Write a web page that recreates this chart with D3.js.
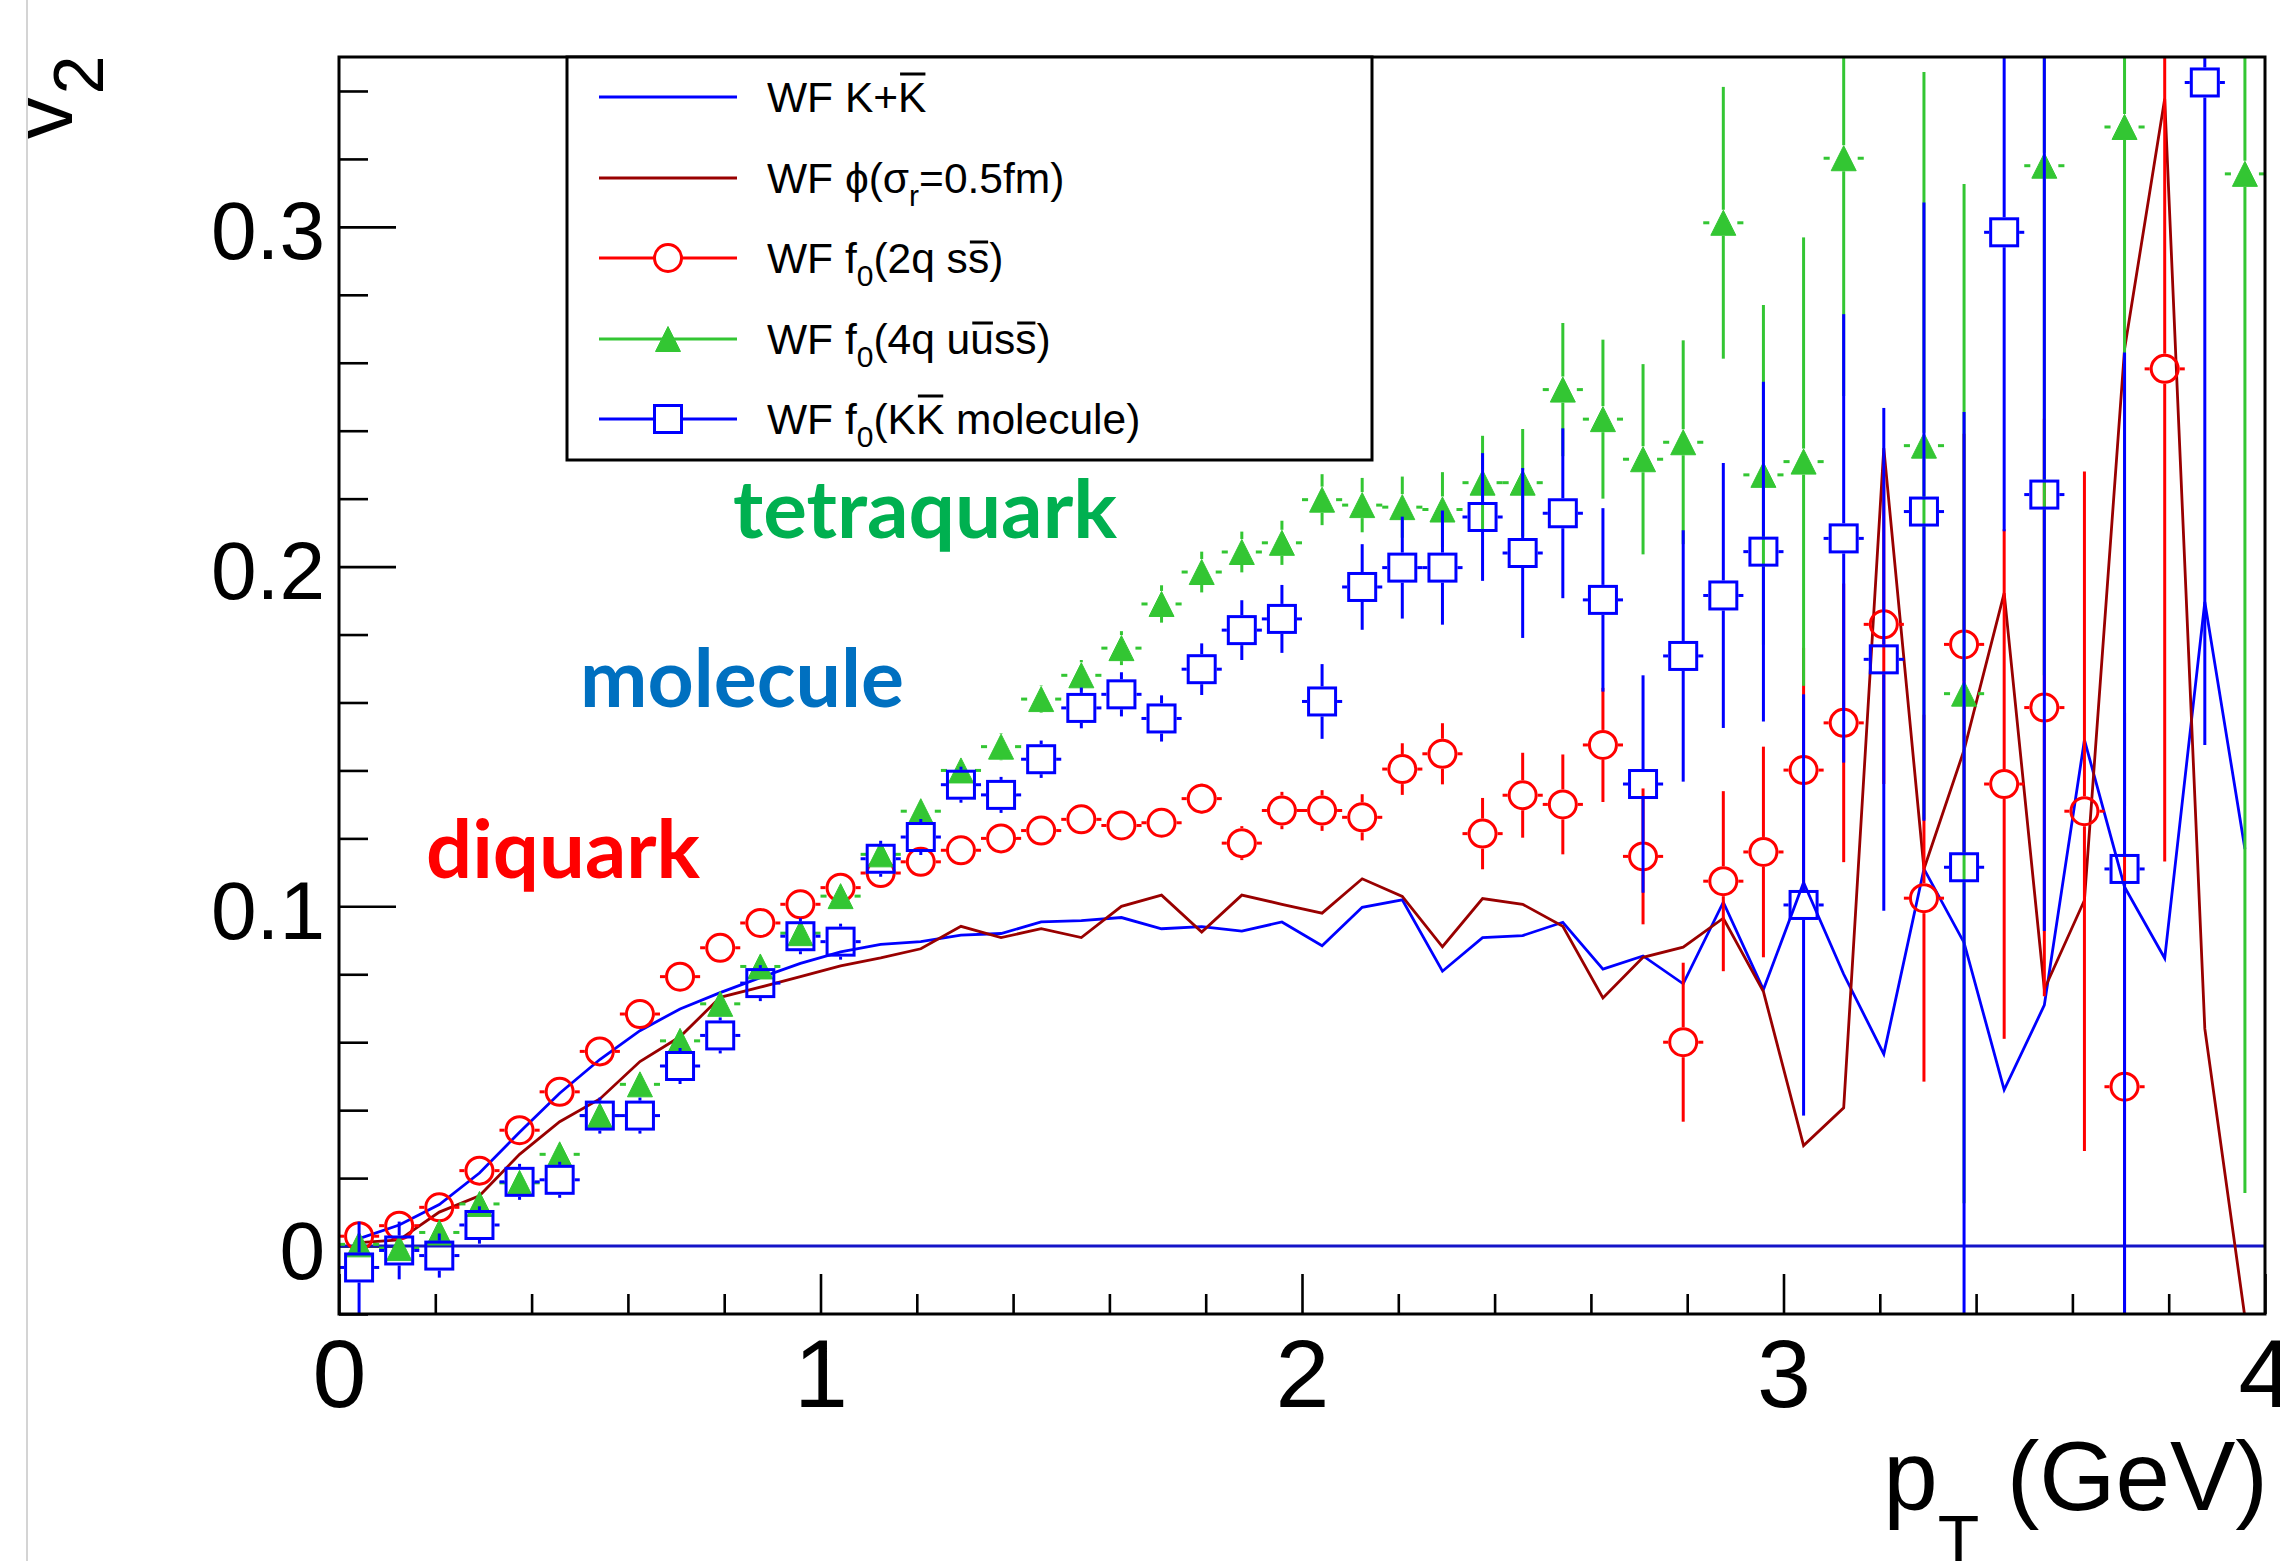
<!DOCTYPE html>
<html>
<head>
<meta charset="utf-8">
<script src="https://cdn.jsdelivr.net/npm/d3@7"></script>
<style>
  html, body { margin: 0; padding: 0; background: #ffffff; }
  svg { display: block; }
</style>
</head>
<body>
<svg id="chart" width="2280" height="1561"></svg>
<script>
// ---- data -------------------------------------------------------------
// pT bin centres in GeV (48 bins, width 1/12 GeV)
const pT = [0.0417, 0.1250, 0.2083, 0.2917, 0.3750, 0.4583, 0.5417, 0.6250,
            0.7083, 0.7917, 0.8750, 0.9583, 1.0417, 1.1250, 1.2083, 1.2917,
            1.3750, 1.4583, 1.5417, 1.6250, 1.7083, 1.7917, 1.8750, 1.9583,
            2.0417, 2.1250, 2.2083, 2.2917, 2.3750, 2.4583, 2.5417, 2.6250,
            2.7083, 2.7917, 2.8750, 2.9583, 3.0417, 3.1250, 3.2083, 3.2917,
            3.3750, 3.4583, 3.5417, 3.6250, 3.7083, 3.7917, 3.8750, 3.9583];
const binHalfWidth = 0.0417;

// WF K+Kbar (line)
const kkLine = [0.0022, 0.0062, 0.0122, 0.0215, 0.0335, 0.0450, 0.0549, 0.0634,
                0.0698, 0.0746, 0.0790, 0.0832, 0.0866, 0.0888, 0.0896, 0.0915,
                0.0920, 0.0954, 0.0958, 0.0967, 0.0934, 0.0940, 0.0927, 0.0954,
                0.0884, 0.0997, 0.1019, 0.0809, 0.0908, 0.0914, 0.0953, 0.0815,
                0.0854, 0.0772, 0.1012, 0.0755, 0.1070, 0.0800, 0.0565, 0.1110,
                0.0893, 0.0460, 0.0709, 0.1490, 0.1057, 0.0847, 0.1896, 0.1169];

// WF phi (sigma_r = 0.5 fm) (line)
const phiLine = [0.0010, 0.0018, 0.0100, 0.0148, 0.0270, 0.0366, 0.0433, 0.0543,
                 0.0616, 0.0732, 0.0762, 0.0793, 0.0825, 0.0848, 0.0875, 0.0941,
                 0.0908, 0.0934, 0.0908, 0.1000, 0.1033, 0.0924, 0.1033, 0.1006,
                 0.0980, 0.1081, 0.1029, 0.0881, 0.1023, 0.1006, 0.0941, 0.0730,
                 0.0850, 0.0880, 0.0965, 0.0749, 0.0296, 0.0407, 0.2349, 0.1110,
                 0.1460, 0.1922, 0.0756, 0.1018, 0.2640, 0.3377, 0.0640, -0.0210];

// WF f0 (2q s sbar) : open circles
const f0TwoQ = [0.0029, 0.0060, 0.0114, 0.0222, 0.0341, 0.0454, 0.0573, 0.0683,
                0.0793, 0.0878, 0.0951, 0.1006, 0.1055, 0.1098, 0.1131, 0.1165,
                0.1200, 0.1223, 0.1256, 0.1238, 0.1246, 0.1317, 0.1186, 0.1282,
                0.1282, 0.1262, 0.1404, 0.1449, 0.1214, 0.1327, 0.1300, 0.1475,
                0.1147, 0.0600, 0.1074, 0.1160, 0.1401, 0.1540, 0.1830, 0.1024,
                0.1771, 0.1360, 0.1585, 0.1280, 0.0469, 0.2582, null, null];
const f0TwoQErr = [0.001, 0.001, 0.001, 0.001, 0.001, 0.001, 0.001, 0.001,
                   0.001, 0.001, 0.001, 0.002, 0.002, 0.002, 0.002, 0.002,
                   0.002, 0.003, 0.003, 0.0035, 0.004, 0.0045, 0.005, 0.0055,
                   0.006, 0.0068, 0.0076, 0.009, 0.0105, 0.0125, 0.0147, 0.0168,
                   0.020, 0.0234, 0.0265, 0.031, 0.036, 0.041, 0.047, 0.054,
                   0.062, 0.075, 0.085, 0.100, 0.110, 0.145, 0, 0];

// WF f0 (4q u ubar s sbar) : full triangles
const f0FourQ = [0.0005, -0.0006, 0.0040, 0.0124, 0.0186, 0.0270, 0.0384, 0.0476,
                 0.0604, 0.0713, 0.0823, 0.0921, 0.1030, 0.1153, 0.1280, 0.1400,
                 0.1470, 0.1610, 0.1680, 0.1760, 0.1890, 0.1984, 0.2043, 0.2070,
                 0.2197, 0.2181, 0.2175, 0.2168, 0.2247, 0.2247, 0.2521, 0.2434,
                 0.2316, 0.2366, 0.3012, 0.2270, 0.2309, 0.3202, null, 0.2356,
                 0.1626, null, 0.3180, null, 0.3294, null, null, 0.3156];
const f0FourQErr = [0.001, 0.001, 0.001, 0.001, 0.001, 0.001, 0.002, 0.002,
                    0.002, 0.002, 0.002, 0.003, 0.003, 0.003, 0.003, 0.003,
                    0.004, 0.004, 0.0045, 0.005, 0.0055, 0.006, 0.006, 0.0065,
                    0.0075, 0.008, 0.009, 0.011, 0.0138, 0.0158, 0.0196, 0.0234,
                    0.028, 0.030, 0.040, 0.050, 0.066, 0.070, 0, 0.110,
                    0.150, 0, 0.150, 0, 0.200, 0, 0, 0.300];

// WF f0 (K Kbar molecule) : open squares
const f0Mol = [-0.0063, -0.0013, -0.0028, 0.0062, 0.0189, 0.0195, 0.0384, 0.0384,
               0.0530, 0.0620, 0.0774, 0.0912, 0.0896, 0.1140, 0.1204, 0.1358,
               0.1328, 0.1433, 0.1584, 0.1624, 0.1553, 0.1698, 0.1813, 0.1846,
               0.1603, 0.1940, 0.1997, 0.1997, 0.2146, 0.2040, 0.2157, 0.1902,
               0.1360, 0.1737, 0.1915, 0.2044, 0.1004, 0.2083, 0.1727, 0.2162,
               0.1115, 0.2984, 0.2212, null, 0.1110, null, 0.3425, null];
const f0MolErr = [0.0135, 0.0085, 0.0065, 0.0055, 0.0053, 0.0053, 0.0053, 0.0053,
                  0.0053, 0.0053, 0.0053, 0.0053, 0.0053, 0.0053, 0.0053, 0.0053,
                  0.0053, 0.0055, 0.006, 0.0065, 0.0068, 0.0076, 0.0088, 0.010,
                  0.011, 0.0126, 0.015, 0.0168, 0.0188, 0.025, 0.025, 0.027,
                  0.032, 0.037, 0.039, 0.050, 0.062, 0.066, 0.074, 0.091,
                  0.134, 0.088, 0.1285, 0, 0.152, 0, 0.195, 0];

const yMajorTicks = [0, 0.1, 0.2, 0.3];
const xMajorTicks = [0, 1, 2, 3, 4];

// legend rows: text pieces, "sub" = subscript, "bar" = overlined
const legendRows = [
  { parts: [["WF K+"], ["K", "bar"]], type: "line", key: "kk" },
  { parts: [["WF \u03D5(\u03C3"], ["r", "sub"], ["=0.5fm)"]], type: "line", key: "phi" },
  { parts: [["WF f"], ["0", "sub"], ["(2q s"], ["s", "bar"], [")"]], type: "circle", key: "twoQ" },
  { parts: [["WF f"], ["0", "sub"], ["(4q u"], ["u", "bar"], ["s"], ["s", "bar"], [")"]], type: "triangle", key: "fourQ" },
  { parts: [["WF f"], ["0", "sub"], ["(K"], ["K", "bar"], [" molecule)"]], type: "square", key: "mol" }
];

const annotations = [
  { text: "tetraquark", color: "#00b050", x: 733, y: 538, len: 384 },
  { text: "molecule",   color: "#0070c0", x: 580, y: 707, len: 324 },
  { text: "diquark",    color: "#ff0000", x: 426, y: 878, len: 274 }
];

// ---- layout & style ----------------------------------------------------
const frame = { left: 339, right: 2265, top: 57, bottom: 1314 };
const colors = {
  kk: "#0000ff", phi: "#990000", twoQ: "#ff0000",
  fourQ: "#33c633", mol: "#0000ff", zero: "#1414c8"
};
const FONT = "'Liberation Sans', Arial, Helvetica, sans-serif";
const MARK = 13.5;

const svg = d3.select("#chart");
svg.append("rect").attr("width", 2280).attr("height", 1561).attr("fill", "#ffffff");
// thin page border on the left
svg.append("line").attr("x1", 27).attr("x2", 27).attr("y1", 0).attr("y2", 1561)
  .attr("stroke", "#d4d4d4").attr("stroke-width", 2);

const x = d3.scaleLinear().domain([0, 4]).range([frame.left, frame.right]);
const y = d3.scaleLinear().domain([-0.02, 0.35]).range([frame.bottom, frame.top]);

svg.append("defs").append("clipPath").attr("id", "frameClip")
  .append("rect")
  .attr("x", frame.left).attr("y", frame.top)
  .attr("width", frame.right - frame.left).attr("height", frame.bottom - frame.top);

// ---- axes ---------------------------------------------------------------
function styleAxis(g, fontSize) {
  g.select(".domain").remove();
  g.selectAll(".tick line").attr("stroke", "#000").attr("stroke-width", 2.6);
  g.selectAll(".tick text").attr("fill", "#000")
    .attr("font-family", FONT).attr("font-size", fontSize);
}

const yMinor = d3.range(-0.02, 0.3501, 0.02)
  .filter(v => !yMajorTicks.some(t => Math.abs(t - v) < 1e-6));
svg.append("g").attr("transform", `translate(${frame.left},0)`)
  .call(d3.axisLeft(y).tickValues(yMinor).tickSize(-29).tickSizeOuter(0).tickFormat(""))
  .call(g => styleAxis(g, 82));
svg.append("g").attr("transform", `translate(${frame.left},0)`)
  .call(d3.axisLeft(y).tickValues(yMajorTicks).tickSize(-57).tickSizeOuter(0)
    .tickPadding(14).tickFormat(d => d === 0 ? "0" : d3.format(".1f")(d)))
  .call(g => styleAxis(g, 82))
  .call(g => g.selectAll(".tick text").attr("dy", "0.39em"));

const xMinor = d3.range(0.2, 4, 0.2)
  .filter(v => !xMajorTicks.some(t => Math.abs(t - v) < 1e-6));
svg.append("g").attr("transform", `translate(0,${frame.bottom})`)
  .call(d3.axisBottom(x).tickValues(xMinor).tickSize(-20).tickSizeOuter(0).tickFormat(""))
  .call(g => styleAxis(g, 97));
svg.append("g").attr("transform", `translate(0,${frame.bottom})`)
  .call(d3.axisBottom(x).tickValues(xMajorTicks).tickSize(-40).tickSizeOuter(0)
    .tickPadding(24).tickFormat(d3.format("d")))
  .call(g => styleAxis(g, 97));

// axis titles
const xTitle = svg.append("text").attr("x", 2268).attr("y", 1510)
  .attr("text-anchor", "end").attr("font-family", FONT).attr("font-size", 98).attr("fill", "#000");
xTitle.append("tspan").text("p");
xTitle.append("tspan").attr("font-size", 68).attr("dy", 53).text("T");
xTitle.append("tspan").attr("dy", -53).text(" (GeV)");

const yTitle = svg.append("text").attr("transform", "translate(72,139) rotate(-90)")
  .attr("font-family", FONT).attr("font-size", 83).attr("fill", "#000");
yTitle.append("tspan").text("v");
yTitle.append("tspan").attr("font-size", 70).attr("dy", 31).attr("dx", 3).text("2");

// ---- plot contents ---------------------------------------------------------
const plot = svg.append("g").attr("clip-path", "url(#frameClip)");

// reference line at v2 = 0
plot.append("line")
  .attr("x1", x(0)).attr("x2", x(4)).attr("y1", y(0)).attr("y2", y(0))
  .attr("stroke", colors.zero).attr("stroke-width", 3);

function drawLine(vals, color) {
  const line = d3.line()
    .defined((d, i) => vals[i] != null)
    .x((d, i) => x(pT[i]))
    .y((d, i) => y(vals[i]));
  plot.append("path").datum(vals).attr("d", line)
    .attr("fill", "none").attr("stroke", color).attr("stroke-width", 2.8)
    .attr("stroke-linejoin", "miter");
}
drawLine(kkLine, colors.kk);
drawLine(phiLine, colors.phi);

function drawMarker(g, shape, cx, cy, color) {
  if (shape === "circle") {
    g.append("circle").attr("cx", cx).attr("cy", cy).attr("r", MARK)
      .attr("fill", "none").attr("stroke", color).attr("stroke-width", 3);
  } else if (shape === "square") {
    g.append("rect").attr("x", cx - MARK).attr("y", cy - MARK)
      .attr("width", 2 * MARK).attr("height", 2 * MARK)
      .attr("fill", "none").attr("stroke", color).attr("stroke-width", 3);
  } else {
    g.append("path")
      .attr("d", `M${cx},${cy - 12.5}L${cx + 12.5},${cy + 12.5}L${cx - 12.5},${cy + 12.5}Z`)
      .attr("fill", color).attr("stroke", color).attr("stroke-width", 1);
  }
}

function drawPoints(vals, errs, color, shape) {
  const g = plot.append("g");
  const hx = shape === "triangle" ? 14 : 15;
  const hy = shape === "triangle" ? 13 : 15;
  const seg = (x1, y1, x2, y2) => g.append("line")
    .attr("x1", x1).attr("y1", y1).attr("x2", x2).attr("y2", y2)
    .attr("stroke", color).attr("stroke-width", 3);
  vals.forEach((v, i) => {
    if (v == null) return;
    const cx = x(pT[i]), cy = y(v), e = errs[i];
    const yTop = y(v + e), yBot = y(v - e);
    if (cy - hy > yTop) seg(cx, yTop, cx, cy - hy);
    if (cy + hy < yBot) seg(cx, cy + hy, cx, yBot);
    const xl = x(pT[i] - binHalfWidth), xr = x(pT[i] + binHalfWidth);
    if (cx - hx > xl) seg(xl, cy, cx - hx, cy);
    if (cx + hx < xr) seg(cx + hx, cy, xr, cy);
    drawMarker(g, shape, cx, cy, color);
  });
}
drawPoints(f0TwoQ, f0TwoQErr, colors.twoQ, "circle");
drawPoints(f0FourQ, f0FourQErr, colors.fourQ, "triangle");
drawPoints(f0Mol, f0MolErr, colors.mol, "square");

// frame
svg.append("rect")
  .attr("x", frame.left).attr("y", frame.top)
  .attr("width", frame.right - frame.left).attr("height", frame.bottom - frame.top)
  .attr("fill", "none").attr("stroke", "#000").attr("stroke-width", 3);

// ---- annotations -------------------------------------------------------------
annotations.forEach(a => {
  svg.append("text").attr("x", a.x).attr("y", a.y)
    .attr("font-family", "Lato, 'Open Sans', sans-serif").attr("font-weight", 700)
    .attr("font-size", 80).attr("fill", a.color)
    .attr("textLength", a.len).attr("lengthAdjust", "spacingAndGlyphs")
    .text(a.text);
});

// ---- legend --------------------------------------------------------------------
const legend = { left: 567, right: 1372, top: 57, bottom: 460,
                 rowY: [97, 178, 258, 339, 419], lineX1: 599, lineX2: 737, markX: 668, textX: 767 };
const lg = svg.append("g");
lg.append("rect")
  .attr("x", legend.left).attr("y", legend.top)
  .attr("width", legend.right - legend.left).attr("height", legend.bottom - legend.top)
  .attr("fill", "#ffffff").attr("stroke", "#000").attr("stroke-width", 3);

legendRows.forEach((row, r) => {
  const ry = legend.rowY[r];
  const color = colors[row.key];
  if (row.type === "line") {
    lg.append("line").attr("x1", legend.lineX1).attr("x2", legend.lineX2)
      .attr("y1", ry).attr("y2", ry).attr("stroke", color).attr("stroke-width", 3);
  } else {
    const gap = row.type === "triangle" ? 0 : MARK;
    lg.append("line").attr("x1", legend.lineX1).attr("x2", legend.markX - gap)
      .attr("y1", ry).attr("y2", ry).attr("stroke", color).attr("stroke-width", 3);
    lg.append("line").attr("x1", legend.markX + gap).attr("x2", legend.lineX2)
      .attr("y1", ry).attr("y2", ry).attr("stroke", color).attr("stroke-width", 3);
    drawMarker(lg, row.type, legend.markX, ry, color);
  }

  const baseY = ry + 15;
  const t = lg.append("text").attr("x", legend.textX).attr("y", baseY)
    .attr("font-family", FONT).attr("font-size", 42.5).attr("fill", "#000");
  let shift = 0, idx = 0;
  const bars = [];
  row.parts.forEach(([s, kind]) => {
    const ts = t.append("tspan").text(s);
    if (kind === "sub") {
      ts.attr("font-size", 30).attr("dy", 13 - shift);
      shift = 13;
    } else if (shift) {
      ts.attr("dy", -shift);
      shift = 0;
    }
    if (kind === "bar") bars.push({ start: idx, upper: s !== s.toLowerCase() });
    idx += s.length;
  });
  bars.forEach(b => {
    const ext = t.node().getExtentOfChar(b.start);
    const by = baseY - (b.upper ? 38 : 31);
    lg.append("line")
      .attr("x1", ext.x + 2).attr("x2", ext.x + ext.width - 1)
      .attr("y1", by).attr("y2", by)
      .attr("stroke", "#000").attr("stroke-width", 3);
  });
});
</script>
</body>
</html>
